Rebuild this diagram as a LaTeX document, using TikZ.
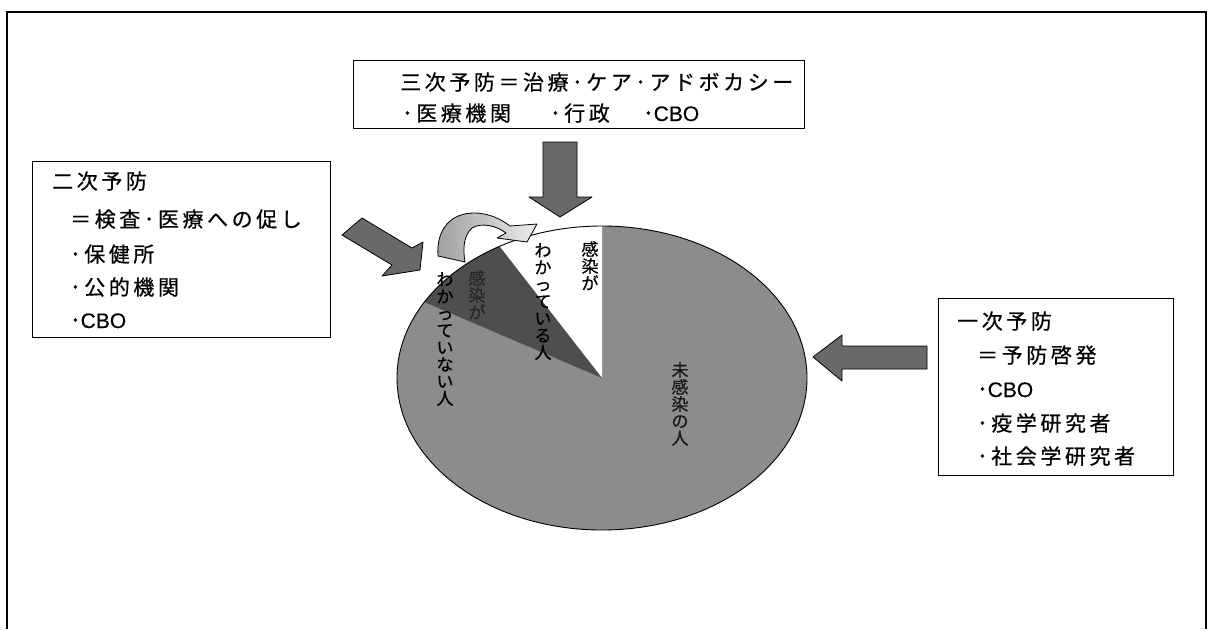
\documentclass[tikz,border=0pt]{standalone}
\usepackage{fontspec}
\newfontfamily\jp[LetterSpace=17,FakeBold=0.6]{Noto Sans CJK JP}
\newfontfamily\jpv[FakeBold=0.6]{Noto Sans CJK JP}
\newfontfamily\lat[FakeBold=0.4]{Liberation Sans}
\definecolor{piegray}{RGB}{140,140,140}
\definecolor{darkwedge}{RGB}{78,78,78}
\definecolor{arrowgray}{RGB}{105,105,105}
\begin{document}
\begin{tikzpicture}[x=1pt,y=-1pt,
  box/.style={draw, line width=1.2pt, fill=white, inner sep=0, anchor=north west},
  bigarrow/.style={fill=arrowgray, draw=black, line width=0.8pt, line join=round},
  txt/.style={anchor=base west, inner sep=0, font=\jp\fontsize{21}{24}\selectfont},
  vtxt/.style={anchor=north, inner sep=0, align=center, font=\jpv\fontsize{17}{17}\selectfont}]
\useasboundingbox (0,0) rectangle (1209,629);
% outer frame
\draw[line width=1.5pt] (7,629) -- (7,12) -- (1206,12) -- (1206,629);
% boxes
\node[box, minimum width=451pt, minimum height=68pt] (tert) at (353,60) {};
\node[box, minimum width=298pt, minimum height=176pt] (sec) at (32,161) {};
\node[box, minimum width=235pt, minimum height=177pt] (prim) at (938,298) {};
% box texts
\node[txt] (t1) at (400,90) {三次予防＝治療･ケア･アドボカシー};
\node[txt] (t2) at (402,121) {･医療機関};
\node[txt] (t3) at (550,121) {･行政};
\node[txt] (t4) at (643,121) {･{\lat\fontsize{21}{24}\selectfont CBO}};
\node[txt] (s1) at (52,189) {二次予防};
\node[txt] (s2) at (70,227) {＝検査･医療への促し};
\node[txt] (s3) at (70,262) {･保健所};
\node[txt] (s4) at (70,295) {･公的機関};
\node[txt] (s5) at (70,328) {･{\lat\fontsize{21}{24}\selectfont CBO}};
\node[txt] (p1) at (957,329) {一次予防};
\node[txt] (p2) at (977,363) {＝予防啓発};
\node[txt] (p3) at (977,397) {･{\lat\fontsize{21}{24}\selectfont CBO}};
\node[txt] (p4) at (977,431) {･疫学研究者};
\node[txt] (p5) at (977,464) {･社会学研究者};
% pie
\coordinate (c) at (602,378);
\fill[piegray] (c) ellipse [x radius=205, y radius=152];
\fill[white] (c) -- ++(0,-152) arc[start angle=-90, end angle=-120, x radius=205, y radius=152] -- cycle;
\fill[darkwedge] (c) -- ++(-102.5,-131.6) arc[start angle=-120, end angle=-150, x radius=205, y radius=152] -- cycle;
\draw[line width=0.9pt] (c) ellipse [x radius=205, y radius=152];
% pie labels
\node[vtxt] (w1) at (590,241) {感\\染\\が};
\node[vtxt] (w2) at (543,243) {わ\\か\\っ\\て\\い\\る\\人};
\node[vtxt, text=black!85] (d1) at (477,270) {感\\染\\が};
\node[vtxt] (d2) at (445,272) {わ\\か\\っ\\て\\い\\な\\い\\人};
\node[vtxt, text=black!90] (g1) at (680,362) {未\\感\\染\\の\\人};
% block arrows
\draw[bigarrow] (543,142) -- (577,142) -- (577,197) -- (592,197) -- (560,217) -- (529,197) -- (543,197) -- cycle;
\draw[bigarrow] (362,218) -- (412,248) -- (423,242) -- (420,270) -- (382,276) -- (392,265) -- (342,235) -- cycle;
\draw[bigarrow] (927,346) -- (842,346) -- (842,335) -- (813,357) -- (842,381) -- (842,369) -- (927,369) -- cycle;
% curved arrow
\path[draw=black, line width=0.8pt, line join=round, left color=gray!75, right color=gray!15]
  (438,256) .. controls (436,228) and (452,213) .. (474,213)
  .. controls (490,213) and (502,220) .. (510,226)
  -- (537,224) -- (527,242) -- (497,238) -- (506,233)
  .. controls (497,226) and (482,222) .. (472,228)
  .. controls (463,236) and (463,250) .. (465,262) -- cycle;
\end{tikzpicture}
\end{document}
